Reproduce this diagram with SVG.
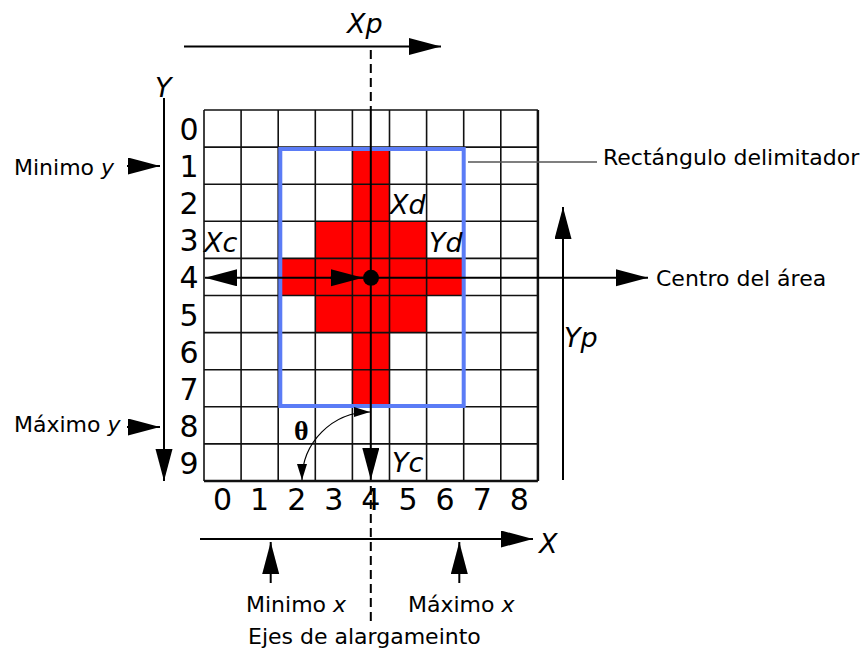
<svg xmlns="http://www.w3.org/2000/svg" width="863" height="648" viewBox="0 0 863 648">
<style>
  .grid line { stroke:#111; stroke-width:1.6; }
  .lbl { font-family:"DejaVu Sans","Verdana",sans-serif; font-size:22px; fill:#000; }
  .num { font-family:"DejaVu Sans","Verdana",sans-serif; font-size:30px; fill:#000; text-anchor:middle; }
  .it { font-family:"DejaVu Sans","Verdana",sans-serif; font-style:italic; font-size:27px; fill:#000; }
  .ln { stroke:#000; stroke-width:2; fill:none; }
  .dash { stroke:#000; stroke-width:2; stroke-dasharray:9 5; fill:none; }
</style>
<defs>
  <marker id="ah" markerUnits="userSpaceOnUse" markerWidth="34" markerHeight="18" refX="32" refY="8.5" orient="auto-start-reverse" viewBox="0 0 34 18">
    <path d="M0,0 L32,8.5 L0,17 Z" fill="#000"/>
  </marker>
  <marker id="sh" markerUnits="userSpaceOnUse" markerWidth="18" markerHeight="12" refX="16" refY="5" orient="auto-start-reverse" viewBox="0 0 18 12">
    <path d="M0,0 L16,5 L0,10 Z" fill="#000"/>
  </marker>
</defs>
<rect width="863" height="648" fill="#fff"/>

<g id="cross" fill="#ff0000">
  <rect x="352.4" y="147.1" width="37.1" height="259.7"/>
  <rect x="315.3" y="221.3" width="111.3" height="111.3"/>
  <rect x="278.2" y="258.4" width="185.5" height="37.1"/>
</g>

<g id="grid" class="grid">
  <line x1="204" y1="110" x2="204" y2="481"/>
  <line x1="241.1" y1="110" x2="241.1" y2="481"/>
  <line x1="278.2" y1="110" x2="278.2" y2="481"/>
  <line x1="315.3" y1="110" x2="315.3" y2="481"/>
  <line x1="352.4" y1="110" x2="352.4" y2="481"/>
  <line x1="389.5" y1="110" x2="389.5" y2="481"/>
  <line x1="426.6" y1="110" x2="426.6" y2="481"/>
  <line x1="463.7" y1="110" x2="463.7" y2="481"/>
  <line x1="500.8" y1="110" x2="500.8" y2="481"/>
  <line x1="537.9" y1="110" x2="537.9" y2="481" style="stroke-width:2.5"/>
  <line x1="204" y1="110" x2="537.9" y2="110"/>
  <line x1="204" y1="147.1" x2="537.9" y2="147.1"/>
  <line x1="204" y1="184.2" x2="537.9" y2="184.2"/>
  <line x1="204" y1="221.3" x2="537.9" y2="221.3"/>
  <line x1="204" y1="258.4" x2="537.9" y2="258.4"/>
  <line x1="204" y1="295.5" x2="537.9" y2="295.5"/>
  <line x1="204" y1="332.6" x2="537.9" y2="332.6"/>
  <line x1="204" y1="369.7" x2="537.9" y2="369.7"/>
  <line x1="204" y1="406.8" x2="537.9" y2="406.8"/>
  <line x1="204" y1="443.9" x2="537.9" y2="443.9"/>
  <line x1="204" y1="481" x2="537.9" y2="481" style="stroke-width:2.5"/>
</g>

<g id="bounding-rect">
  <rect x="280.3" y="149" width="183.4" height="257" fill="none" stroke="#5b7cf6" stroke-width="4"/>
</g>

<g id="row-labels">
  <text class="num" x="189" y="140">0</text>
  <text class="num" x="189" y="177.1">1</text>
  <text class="num" x="189" y="214.2">2</text>
  <text class="num" x="189" y="251.3">3</text>
  <text class="num" x="189" y="288.4">4</text>
  <text class="num" x="189" y="325.5">5</text>
  <text class="num" x="189" y="362.6">6</text>
  <text class="num" x="189" y="399.7">7</text>
  <text class="num" x="189" y="436.8">8</text>
  <text class="num" x="189" y="473.9">9</text>
</g>
<g id="col-labels">
  <text class="num" x="222.5" y="510">0</text>
  <text class="num" x="259.6" y="510">1</text>
  <text class="num" x="296.7" y="510">2</text>
  <text class="num" x="333.8" y="510">3</text>
  <text class="num" x="370.9" y="510">4</text>
  <text class="num" x="408" y="510">5</text>
  <text class="num" x="445.1" y="510">6</text>
  <text class="num" x="482.2" y="510">7</text>
  <text class="num" x="519.3" y="510">8</text>
</g>

<g id="connectors">
  <line class="ln" x1="184" y1="46.5" x2="441" y2="46.5" marker-end="url(#ah)"/>
  <line class="ln" x1="164" y1="98" x2="164" y2="481" marker-end="url(#ah)"/>
  <line class="ln" x1="127" y1="166" x2="160" y2="166" marker-end="url(#ah)"/>
  <line class="ln" x1="127" y1="427" x2="160" y2="427" marker-end="url(#ah)"/>
  <line class="dash" x1="370.8" y1="50" x2="370.8" y2="110"/>
  <line class="ln" x1="370.8" y1="110" x2="370.8" y2="480" marker-end="url(#ah)"/>
  <line class="dash" x1="370.8" y1="486" x2="370.8" y2="624"/>
  <line class="ln" x1="205" y1="277.8" x2="648" y2="277.8" marker-start="url(#ah)" marker-end="url(#ah)"/>
  <line class="ln" x1="330" y1="277.8" x2="363" y2="277.8" marker-end="url(#ah)"/>
  <circle cx="371" cy="277.8" r="8" fill="#000"/>
  <line class="ln" x1="563" y1="480" x2="563" y2="207" marker-end="url(#ah)"/>
  <line x1="468" y1="162" x2="597" y2="162" stroke="#555" stroke-width="1.5"/>
  <line class="ln" x1="200" y1="539" x2="533" y2="539" marker-end="url(#ah)"/>
  <line class="ln" x1="270.7" y1="583" x2="270.7" y2="542" marker-end="url(#ah)"/>
  <line class="ln" x1="459.3" y1="583" x2="459.3" y2="542" marker-end="url(#ah)"/>
  <path d="M 370 412 A 68 68 0 0 0 302 480" fill="none" stroke="#000" stroke-width="1.2" marker-start="url(#sh)" marker-end="url(#sh)"/>
</g>

<g id="labels">
  <text class="it" x="347" y="33">Xp</text>
  <text class="it" x="155" y="97">Y</text>
  <text class="it" x="204" y="252">Xc</text>
  <text class="it" x="390" y="214">Xd</text>
  <text class="it" x="429" y="252">Yd</text>
  <text class="it" x="392" y="472">Yc</text>
  <text class="it" x="564" y="347">Yp</text>
  <text class="it" x="539" y="553">X</text>
  <text x="294" y="440" font-family="Liberation Serif, serif" font-size="28" font-weight="bold">θ</text>
  <text class="lbl" x="14" y="175">Minimo <tspan font-style="italic">y</tspan></text>
  <text class="lbl" x="14" y="432">Máximo <tspan font-style="italic">y</tspan></text>
  <text class="lbl" x="603" y="165">Rectángulo delimitador</text>
  <text class="lbl" x="656" y="286">Centro del área</text>
  <text class="lbl" x="246" y="612">Minimo <tspan font-style="italic">x</tspan></text>
  <text class="lbl" x="408" y="612">Máximo <tspan font-style="italic">x</tspan></text>
  <text class="lbl" x="248" y="644">Ejes de alargameinto</text>
</g>
</svg>
